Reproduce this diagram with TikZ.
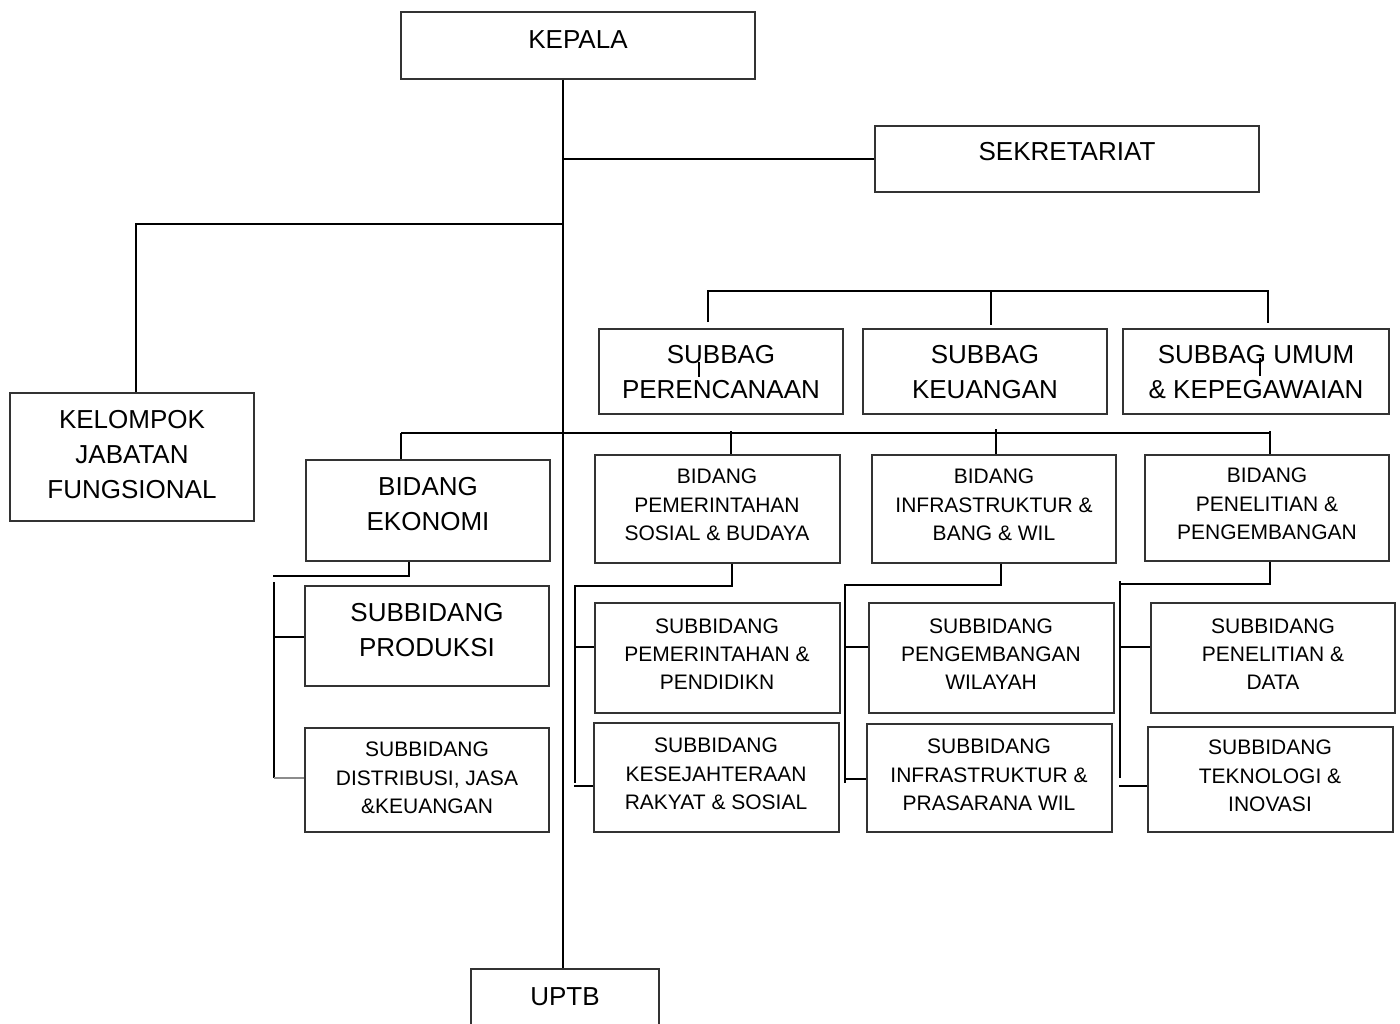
\documentclass[tikz,border=0pt]{standalone}
\usepackage{fontspec}
\setmainfont{Liberation Sans}
\begin{document}
\begin{tikzpicture}[x=1pt,y=-1pt,
  box/.style={draw=black!80, line width=1.3pt, inner sep=0pt},
  ln/.style={line width=1.8pt, black},
  lngray/.style={line width=1.8pt, black!45},
  big/.style={font=\fontsize{26}{35}\selectfont, align=center, inner sep=0pt},
  small/.style={font=\fontsize{21}{28.3}\selectfont, align=center, inner sep=0pt}]
\useasboundingbox[fill=white] (0,0) rectangle (1400,1023);

% ---------------- boxes ----------------
\node[box, minimum width=354pt, minimum height=67pt]  (kepala) at (578,45.5) {};
\node[box, minimum width=384pt, minimum height=66pt]  (sek)    at (1067,159) {};
\node[box, minimum width=244pt, minimum height=128pt] (kel)    at (132,457) {};
\node[box, minimum width=244pt, minimum height=85pt]  (sbp)    at (721,371.5) {};
\node[box, minimum width=244pt, minimum height=85pt]  (sbk)    at (985,371.5) {};
\node[box, minimum width=266pt, minimum height=85pt]  (sbu)    at (1256,371.5) {};
\node[box, minimum width=244pt, minimum height=101pt] (beko)   at (428,510.5) {};
\node[box, minimum width=245pt, minimum height=108pt] (bpem)   at (717.5,509) {};
\node[box, minimum width=244pt, minimum height=108pt] (binf)   at (994,509) {};
\node[box, minimum width=244pt, minimum height=106pt] (bpen)   at (1267,508) {};
\node[box, minimum width=244pt, minimum height=100pt] (sprod)  at (427,636) {};
\node[box, minimum width=244pt, minimum height=104pt] (sdist)  at (427,780) {};
\node[box, minimum width=245pt, minimum height=110pt] (spem)   at (717.5,658) {};
\node[box, minimum width=245pt, minimum height=109pt] (skes)   at (716.5,777.5) {};
\node[box, minimum width=245pt, minimum height=110pt] (speng)  at (991.5,658) {};
\node[box, minimum width=245pt, minimum height=108pt] (sinf)   at (989.5,778) {};
\node[box, minimum width=244pt, minimum height=110pt] (spen)   at (1273,658) {};
\node[box, minimum width=245pt, minimum height=105pt] (stek)   at (1270.5,779.5) {};
\node[box, minimum width=188pt, minimum height=100pt] (uptb)   at (565,1019) {};

% ---------------- texts ----------------
\node[big]   (t-kepala) at (578,40)   {KEPALA};
\node[big]   (t-sek)    at (1067,152) {SEKRETARIAT};
\node[big]   (t-kel)    at (132,455)  {KELOMPOK\\JABATAN\\FUNGSIONAL};
\node[big]   (t-sbp)    at (721,372)  {SUBBAG\\PERENCANAAN};
\node[big]   (t-sbk)    at (985,372)  {SUBBAG\\KEUANGAN};
\node[big]   (t-sbu)    at (1256,372) {SUBBAG UMUM\\\& KEPEGAWAIAN};
\node[big]   (t-beko)   at (428,504)  {BIDANG\\EKONOMI};
\node[small] (t-bpem)   at (717,505)  {BIDANG\\PEMERINTAHAN\\SOSIAL \& BUDAYA};
\node[small] (t-binf)   at (994,505)  {BIDANG\\INFRASTRUKTUR \&\\BANG \& WIL};
\node[small] (t-bpen)   at (1267,504) {BIDANG\\PENELITIAN \&\\PENGEMBANGAN};
\node[big]   (t-sprod)  at (427,630)  {SUBBIDANG\\PRODUKSI};
\node[small] (t-sdist)  at (427,778)  {SUBBIDANG\\DISTRIBUSI, JASA\\\&KEUANGAN};
\node[small] (t-spem)   at (717,654)  {SUBBIDANG\\PEMERINTAHAN \&\\PENDIDIKN};
\node[small] (t-skes)   at (716,774)  {SUBBIDANG\\KESEJAHTERAAN\\RAKYAT \& SOSIAL};
\node[small] (t-speng)  at (991,654)  {SUBBIDANG\\PENGEMBANGAN\\WILAYAH};
\node[small] (t-sinf)   at (989,775)  {SUBBIDANG\\INFRASTRUKTUR \&\\PRASARANA WIL};
\node[small] (t-spen)   at (1273,654) {SUBBIDANG\\PENELITIAN \&\\DATA};
\node[small] (t-stek)   at (1270,776) {SUBBIDANG\\TEKNOLOGI \&\\INOVASI};
\node[big]   (t-uptb)   at (565,997)  {UPTB};

% ---------------- named points ----------------
\coordinate (trunk) at (563,0);
\coordinate (kj)    at (136,224);
% subbag bus
\coordinate (sbL) at (708,291);  \coordinate (sbLd) at (708,322);
\coordinate (sbM) at (991,291);  \coordinate (sbMd) at (991,325);
\coordinate (sbR) at (1268,291); \coordinate (sbRd) at (1268,323);
\coordinate (tk1a) at (699,362);  \coordinate (tk1b) at (699,377);
\coordinate (tk2a) at (1260,358); \coordinate (tk2b) at (1260,376);
% bidang bus
\coordinate (bbL) at (401,433);  \coordinate (bbR) at (1270,433);
\coordinate (bb2a) at (731,431); \coordinate (bb2b) at (731,454);
\coordinate (bb3a) at (996,429); \coordinate (bb3b) at (996,454);
\coordinate (bb4a) at (1270,431);\coordinate (bb4b) at (1270,454);
% ekonomi
\coordinate (e1) at (409,576); \coordinate (e2) at (273,576);
\coordinate (e3) at (274,582); \coordinate (e4) at (274,778);
\coordinate (e5) at (274,637);
% pemerintahan
\coordinate (p1) at (732,586); \coordinate (p2) at (575,586);
\coordinate (p3) at (575,783); \coordinate (p4) at (575,647); \coordinate (p5) at (574,786);
% infrastruktur
\coordinate (i1) at (1001,585); \coordinate (i2) at (845,585);
\coordinate (i3) at (845,783);  \coordinate (i4) at (845,647); \coordinate (i5) at (845,779);
% penelitian
\coordinate (n1) at (1270,584); \coordinate (n2) at (1120,584);
\coordinate (n0) at (1120,581); \coordinate (n3) at (1120,778);
\coordinate (n4) at (1119,647); \coordinate (n5) at (1119,786);

% ---------------- connectors ----------------
\draw[ln] (kepala.south -| trunk) -- (uptb.north -| trunk);
\draw[ln] (sek.west -| trunk) -- (sek.west);
\draw[ln] (kj -| trunk) -- (kj) -- (kj |- kel.north);

\draw[ln] (sbLd) -- (sbL) -- (sbR) -- (sbRd);
\draw[ln] (sbM) -- (sbMd);
\draw[ln] (tk1a) -- (tk1b);
\draw[ln] (tk2a) -- (tk2b);

\draw[ln] (bbL) -- (bbR);
\draw[ln] (bbL) -- (bbL |- beko.north);
\draw[ln] (bb2a) -- (bb2b);
\draw[ln] (bb3a) -- (bb3b);
\draw[ln] (bb4a) -- (bb4b);

\draw[ln] (beko.south -| e1) -- (e1) -- (e2);
\draw[ln] (e3) -- (e4);
\draw[ln] (e5) -- (e5 -| sprod.west);
\draw[lngray] (e4) -- (e4 -| sdist.west);

\draw[ln] (bpem.south -| p1) -- (p1) -- (p2) -- (p3);
\draw[ln] (p4) -- (p4 -| spem.west);
\draw[ln] (p5) -- (p5 -| skes.west);

\draw[ln] (binf.south -| i1) -- (i1) -- (i2) -- (i3);
\draw[ln] (i4) -- (i4 -| speng.west);
\draw[ln] (i5) -- (i5 -| sinf.west);

\draw[ln] (bpen.south -| n1) -- (n1) -- (n2);
\draw[ln] (n0) -- (n3);
\draw[ln] (n4) -- (n4 -| spen.west);
\draw[ln] (n5) -- (n5 -| stek.west);
\end{tikzpicture}
\end{document}
